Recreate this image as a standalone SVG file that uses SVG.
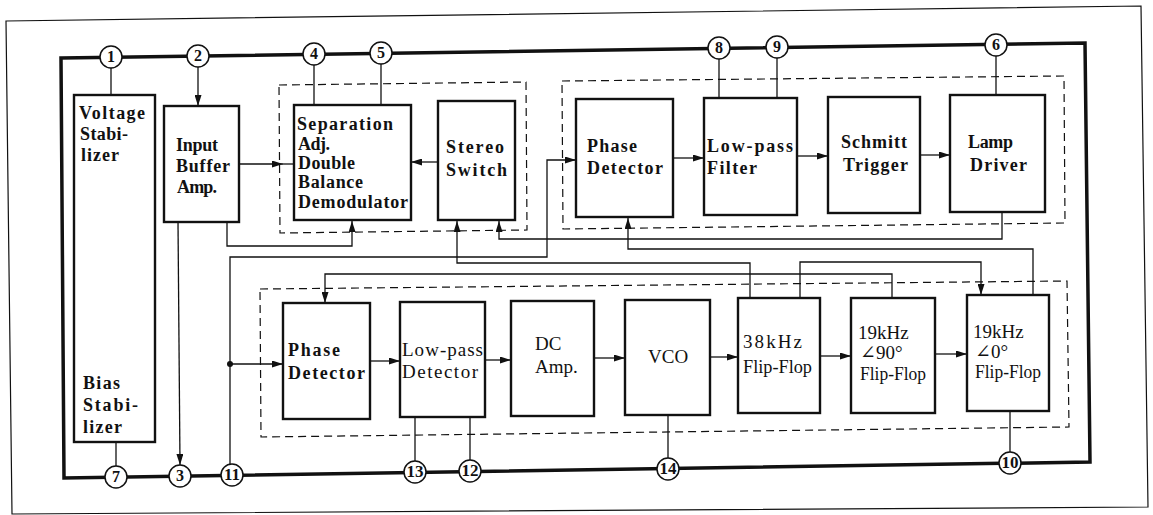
<svg xmlns="http://www.w3.org/2000/svg" width="1153" height="515" viewBox="0 0 1153 515">
<defs>
<style>
.bx{fill:#fff;stroke:#111;stroke-width:2.4}
.ln{fill:none;stroke:#111;stroke-width:1.3}
.ds{fill:none;stroke:#111;stroke-width:1.2;stroke-dasharray:8 5}
.t{font-family:"Liberation Serif","DejaVu Serif",serif;font-size:18px;font-weight:bold;fill:#111}
.r{font-family:"Liberation Serif","DejaVu Serif",serif;font-size:19px;fill:#111}
.pc{fill:#fff;stroke:#111;stroke-width:1.5}
.pn{font-family:"Liberation Serif","DejaVu Serif",serif;font-size:16px;font-weight:bold;fill:#111;text-anchor:middle}
</style>
<marker id="a" markerWidth="11" markerHeight="7" refX="11" refY="3.5" orient="auto" markerUnits="userSpaceOnUse"><path d="M0,0 L11,3.5 L0,7 z" fill="#111"/></marker>
</defs>
<rect width="1153" height="515" fill="#fff"/>
<polygon points="6,21 1141,6 1148,507 12,514" fill="none" stroke="#111" stroke-width="1.2"/>
<polygon points="61,58 1085,43 1090,462 64,478" fill="none" stroke="#111" stroke-width="3.5"/>
<g id="dashed">
<polygon class="ds" points="279,85 526,82 527,230 280,233"/>
<polygon class="ds" points="562,81 1064,76 1065,223 563,229"/>
<polygon class="ds" points="260,289 1067,281 1069,427 261,437"/>
</g>
<g id="connectors">
<line class="ln" x1="111" y1="68" x2="111" y2="95"/>
<line class="ln" x1="198" y1="67" x2="198" y2="106" marker-end="url(#a)"/>
<line class="ln" x1="314" y1="65" x2="314" y2="105"/>
<line class="ln" x1="381" y1="64" x2="381" y2="105"/>
<line class="ln" x1="719" y1="59" x2="719" y2="98"/>
<line class="ln" x1="777" y1="58" x2="777" y2="98"/>
<line class="ln" x1="996" y1="56" x2="996" y2="95"/>
<line class="ln" x1="116" y1="442" x2="116" y2="466"/>
<line class="ln" x1="178" y1="222" x2="180" y2="465" marker-end="url(#a)"/>
<path class="ln" d="M239,164 H283" marker-end="url(#a)"/>
<line class="ln" x1="283" y1="164" x2="294" y2="164"/>
<path class="ln" d="M227,222 V246 H352 V221" marker-end="url(#a)"/>
<line class="ln" x1="438" y1="162" x2="411" y2="162" marker-end="url(#a)"/>
<path class="ln" d="M1002,212 V239 H499 V221" marker-end="url(#a)"/>
<path class="ln" d="M750,298 V263 H457 V221" marker-end="url(#a)"/>
<path class="ln" d="M230,464 V257 H547 V160 H576" marker-end="url(#a)"/>
<circle cx="230" cy="364" r="3" fill="#111"/>
<path class="ln" d="M230,364 H283" marker-end="url(#a)"/>
<path class="ln" d="M1033,295 V249 H628 V218" marker-end="url(#a)"/>
<path class="ln" d="M892,298 V274 H325 V303" marker-end="url(#a)"/>
<path class="ln" d="M800,298 V262 H981 V295" marker-end="url(#a)"/>
<line class="ln" x1="673" y1="158" x2="704" y2="158" marker-end="url(#a)"/>
<line class="ln" x1="797" y1="156" x2="828" y2="156" marker-end="url(#a)"/>
<line class="ln" x1="920" y1="155" x2="950" y2="155" marker-end="url(#a)"/>
<line class="ln" x1="370" y1="361" x2="400" y2="361" marker-end="url(#a)"/>
<line class="ln" x1="485" y1="360" x2="511" y2="360" marker-end="url(#a)"/>
<line class="ln" x1="594" y1="358" x2="625" y2="358" marker-end="url(#a)"/>
<line class="ln" x1="710" y1="357" x2="738" y2="357" marker-end="url(#a)"/>
<line class="ln" x1="820" y1="356" x2="851" y2="356" marker-end="url(#a)"/>
<line class="ln" x1="935" y1="354" x2="967" y2="354" marker-end="url(#a)"/>
<line class="ln" x1="415" y1="417" x2="415" y2="461"/>
<line class="ln" x1="470" y1="417" x2="470" y2="460"/>
<line class="ln" x1="668" y1="415" x2="668" y2="458"/>
<line class="ln" x1="1010" y1="411" x2="1010" y2="452"/>
</g>
<g id="stabilizer">
<rect class="bx" x="74" y="95" width="81" height="347"/>
<text class="t" x="79" y="119" textLength="66" lengthAdjust="spacing">Voltage</text>
<text class="t" x="80" y="140" textLength="48" lengthAdjust="spacing">Stabi-</text>
<text class="t" x="81" y="161" textLength="38" lengthAdjust="spacing">lizer</text>
<text class="t" x="83" y="389" textLength="37" lengthAdjust="spacing">Bias</text>
<text class="t" x="83" y="411" textLength="55" lengthAdjust="spacing">Stabi-</text>
<text class="t" x="83" y="433" textLength="39" lengthAdjust="spacing">lizer</text>
</g>
<g id="buffer">
<rect class="bx" x="164" y="106" width="75" height="116"/>
<text class="t" x="176" y="151" textLength="42" lengthAdjust="spacing">Input</text>
<text class="t" x="176" y="172" textLength="54" lengthAdjust="spacing">Buffer</text>
<text class="t" x="177" y="193" textLength="40" lengthAdjust="spacing">Amp.</text>
</g>
<g id="separation">
<rect class="bx" x="294" y="105" width="117" height="115"/>
<text class="t" x="297" y="130" textLength="96" lengthAdjust="spacing">Separation</text>
<text class="t" x="298" y="150" textLength="32" lengthAdjust="spacing">Adj.</text>
<text class="t" x="298" y="169" textLength="57" lengthAdjust="spacing">Double</text>
<text class="t" x="298" y="188" textLength="65" lengthAdjust="spacing">Balance</text>
<text class="t" x="298" y="208" textLength="110" lengthAdjust="spacing">Demodulator</text>
</g>
<g id="stereo">
<rect class="bx" x="438" y="101" width="77" height="119"/>
<text class="t" x="446" y="153" textLength="58" lengthAdjust="spacing">Stereo</text>
<text class="t" x="446" y="176" textLength="61" lengthAdjust="spacing">Switch</text>
</g>
<g id="phase-upper">
<rect class="bx" x="576" y="99" width="97" height="118"/>
<text class="t" x="587" y="152" textLength="50" lengthAdjust="spacing">Phase</text>
<text class="t" x="587" y="174" textLength="76" lengthAdjust="spacing">Detector</text>
</g>
<g id="lpf">
<rect class="bx" x="704" y="98" width="93" height="117"/>
<text class="t" x="707" y="152" textLength="86" lengthAdjust="spacing">Low-pass</text>
<text class="t" x="707" y="174" textLength="50" lengthAdjust="spacing">Filter</text>
</g>
<g id="schmitt">
<rect class="bx" x="828" y="97" width="92" height="116"/>
<text class="t" x="841" y="148" textLength="66" lengthAdjust="spacing">Schmitt</text>
<text class="t" x="843" y="171" textLength="65" lengthAdjust="spacing">Trigger</text>
</g>
<g id="lamp">
<rect class="bx" x="950" y="95" width="95" height="117"/>
<text class="t" x="968" y="148" textLength="45" lengthAdjust="spacing">Lamp</text>
<text class="t" x="970" y="171" textLength="57" lengthAdjust="spacing">Driver</text>
</g>
<g id="phase-lower">
<rect class="bx" x="283" y="303" width="87" height="116"/>
<text class="t" x="288" y="356" textLength="52" lengthAdjust="spacing">Phase</text>
<text class="t" x="288" y="379" textLength="77" lengthAdjust="spacing">Detector</text>
</g>
<g id="lpd">
<rect class="bx" x="400" y="302" width="85" height="115"/>
<text class="r" x="402" y="356" textLength="81" lengthAdjust="spacing">Low-pass</text>
<text class="r" x="402" y="378" textLength="76" lengthAdjust="spacing">Detector</text>
</g>
<g id="dcamp">
<rect class="bx" x="511" y="301" width="83" height="115"/>
<text class="r" x="535" y="350">DC</text>
<text class="r" x="535" y="373">Amp.</text>
</g>
<g id="vco">
<rect class="bx" x="625" y="300" width="85" height="115"/>
<text class="r" x="648" y="363">VCO</text>
</g>
<g id="ff38">
<rect class="bx" x="738" y="298" width="82" height="115"/>
<text class="r" x="743" y="348" textLength="59" lengthAdjust="spacing">38kHz</text>
<text class="r" x="743" y="373" textLength="69" lengthAdjust="spacingAndGlyphs">Flip-Flop</text>
</g>
<g id="ff19-90">
<rect class="bx" x="851" y="298" width="84" height="115"/>
<text class="r" x="858" y="339">19kHz</text>
<text class="r" x="860" y="359">∠90°</text>
<text class="r" x="860" y="380" textLength="66" lengthAdjust="spacingAndGlyphs">Flip-Flop</text>
</g>
<g id="ff19-0">
<rect class="bx" x="967" y="295" width="82" height="116"/>
<text class="r" x="973" y="338">19kHz</text>
<text class="r" x="975" y="358">∠0°</text>
<text class="r" x="975" y="378" textLength="66" lengthAdjust="spacingAndGlyphs">Flip-Flop</text>
</g>
<g id="pins">
<g id="pin1"><circle class="pc" cx="111" cy="57" r="11"/><text class="pn" x="111" y="62">1</text></g>
<g id="pin2"><circle class="pc" cx="198" cy="56" r="11"/><text class="pn" x="198" y="61">2</text></g>
<g id="pin4"><circle class="pc" cx="314" cy="54" r="11"/><text class="pn" x="314" y="59">4</text></g>
<g id="pin5"><circle class="pc" cx="381" cy="53" r="11"/><text class="pn" x="381" y="58">5</text></g>
<g id="pin8"><circle class="pc" cx="719" cy="48" r="11"/><text class="pn" x="719" y="53">8</text></g>
<g id="pin9"><circle class="pc" cx="777" cy="47" r="11"/><text class="pn" x="777" y="52">9</text></g>
<g id="pin6"><circle class="pc" cx="996" cy="45" r="11"/><text class="pn" x="996" y="50">6</text></g>
<g id="pin7"><circle class="pc" cx="116" cy="477" r="11"/><text class="pn" x="116" y="482">7</text></g>
<g id="pin3"><circle class="pc" cx="180" cy="476" r="11"/><text class="pn" x="180" y="481">3</text></g>
<g id="pin11"><circle class="pc" cx="232" cy="475" r="11"/><text class="pn" x="232" y="480" textLength="16" lengthAdjust="spacingAndGlyphs">11</text></g>
<g id="pin13"><circle class="pc" cx="415" cy="472" r="11"/><text class="pn" x="415" y="477" textLength="17" lengthAdjust="spacingAndGlyphs">13</text></g>
<g id="pin12"><circle class="pc" cx="470" cy="471" r="11"/><text class="pn" x="470" y="476" textLength="17" lengthAdjust="spacingAndGlyphs">12</text></g>
<g id="pin14"><circle class="pc" cx="668" cy="469" r="11"/><text class="pn" x="668" y="474" textLength="17" lengthAdjust="spacingAndGlyphs">14</text></g>
<g id="pin10"><circle class="pc" cx="1010" cy="463" r="11"/><text class="pn" x="1010" y="468" textLength="17" lengthAdjust="spacingAndGlyphs">10</text></g>
</g>
</svg>
